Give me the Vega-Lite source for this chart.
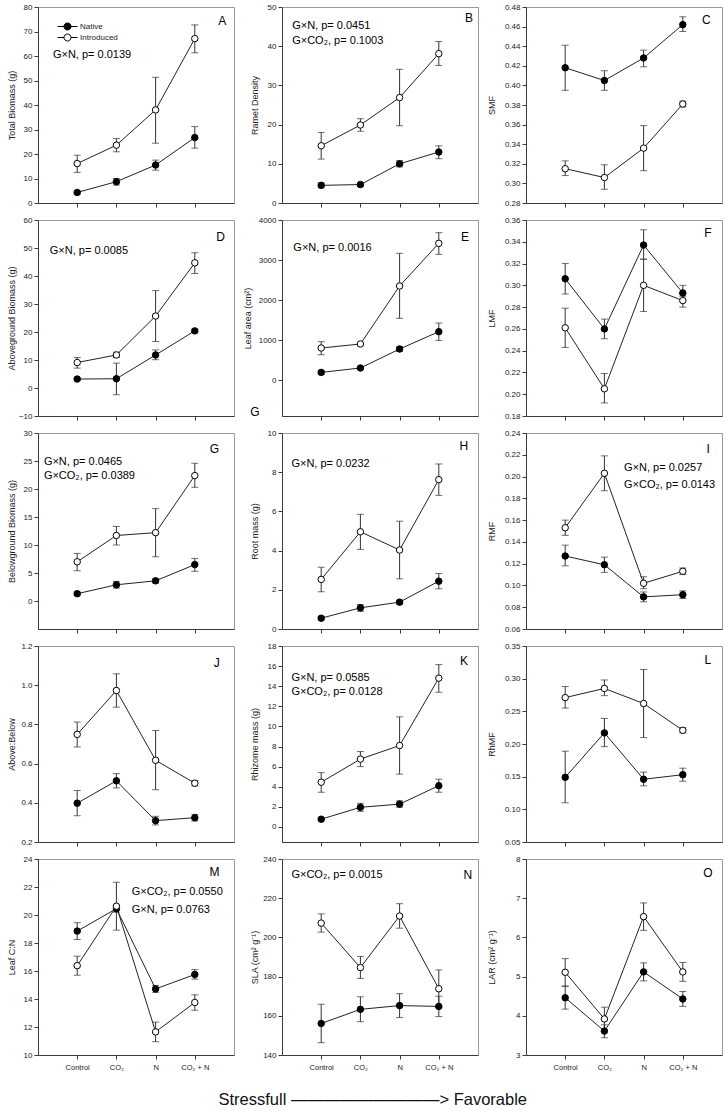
{
"$schema": "https://vega.github.io/schema/vega-lite/v6.json",
"padding": {"left": 7, "top": 2, "right": 0, "bottom": 0},
"datasets": {
"pts": [
{"p":"A","g":"Native","x":1,"y":4.3,"lo":3.7,"hi":4.9},{"p":"A","g":"Native","x":2,"y":8.7,"lo":7.3,"hi":10.0},{"p":"A","g":"Native","x":3,"y":15.5,"lo":13.4,"hi":17.5},{"p":"A","g":"Native","x":4,"y":26.7,"lo":22.4,"hi":31.2},
{"p":"A","g":"Introduced","x":1,"y":16.1,"lo":12.5,"hi":19.5},{"p":"A","g":"Introduced","x":2,"y":23.6,"lo":20.9,"hi":26.3},{"p":"A","g":"Introduced","x":3,"y":38.0,"lo":24.4,"hi":51.3},{"p":"A","g":"Introduced","x":4,"y":67.1,"lo":61.3,"hi":72.7},
{"p":"B","g":"Native","x":1,"y":4.5,"lo":3.9,"hi":5.1},{"p":"B","g":"Native","x":2,"y":4.7,"lo":4.2,"hi":5.2},{"p":"B","g":"Native","x":3,"y":10.0,"lo":9.2,"hi":10.8},{"p":"B","g":"Native","x":4,"y":13.0,"lo":11.3,"hi":14.6},
{"p":"B","g":"Introduced","x":1,"y":14.6,"lo":11.2,"hi":18.0},{"p":"B","g":"Introduced","x":2,"y":19.9,"lo":18.3,"hi":21.5},{"p":"B","g":"Introduced","x":3,"y":26.9,"lo":19.7,"hi":34.1},{"p":"B","g":"Introduced","x":4,"y":38.1,"lo":35.1,"hi":41.2},
{"p":"C","g":"Native","x":1,"y":0.418,"lo":0.395,"hi":0.441},{"p":"C","g":"Native","x":2,"y":0.405,"lo":0.395,"hi":0.415},{"p":"C","g":"Native","x":3,"y":0.428,"lo":0.419,"hi":0.436},{"p":"C","g":"Native","x":4,"y":0.462,"lo":0.455,"hi":0.470},
{"p":"C","g":"Introduced","x":1,"y":0.315,"lo":0.308,"hi":0.323},{"p":"C","g":"Introduced","x":2,"y":0.306,"lo":0.294,"hi":0.319},{"p":"C","g":"Introduced","x":3,"y":0.336,"lo":0.313,"hi":0.359},{"p":"C","g":"Introduced","x":4,"y":0.381,"lo":0.378,"hi":0.384},
{"p":"D","g":"Native","x":1,"y":3.2,"lo":2.8,"hi":3.6},{"p":"D","g":"Native","x":2,"y":3.3,"lo":-2.4,"hi":8.9},{"p":"D","g":"Native","x":3,"y":11.8,"lo":10.1,"hi":13.6},{"p":"D","g":"Native","x":4,"y":20.4,"lo":19.8,"hi":21.0},
{"p":"D","g":"Introduced","x":1,"y":9.1,"lo":7.1,"hi":10.9},{"p":"D","g":"Introduced","x":2,"y":11.8,"lo":10.9,"hi":12.8},{"p":"D","g":"Introduced","x":3,"y":25.7,"lo":16.6,"hi":34.8},{"p":"D","g":"Introduced","x":4,"y":44.7,"lo":40.9,"hi":48.3},
{"p":"E","g":"Native","x":1,"y":190,"lo":140,"hi":240},{"p":"E","g":"Native","x":2,"y":300,"lo":260,"hi":340},{"p":"E","g":"Native","x":3,"y":775,"lo":715,"hi":835},{"p":"E","g":"Native","x":4,"y":1208,"lo":990,"hi":1425},
{"p":"E","g":"Introduced","x":1,"y":800,"lo":633,"hi":958},{"p":"E","g":"Introduced","x":2,"y":900,"lo":870,"hi":930},{"p":"E","g":"Introduced","x":3,"y":2350,"lo":1542,"hi":3167},{"p":"E","g":"Introduced","x":4,"y":3417,"lo":3142,"hi":3683},
{"p":"F","g":"Native","x":1,"y":0.306,"lo":0.292,"hi":0.320},{"p":"F","g":"Native","x":2,"y":0.260,"lo":0.251,"hi":0.269},{"p":"F","g":"Native","x":3,"y":0.337,"lo":0.324,"hi":0.351},{"p":"F","g":"Native","x":4,"y":0.293,"lo":0.290,"hi":0.300},
{"p":"F","g":"Introduced","x":1,"y":0.261,"lo":0.243,"hi":0.279},{"p":"F","g":"Introduced","x":2,"y":0.205,"lo":0.192,"hi":0.219},{"p":"F","g":"Introduced","x":3,"y":0.300,"lo":0.276,"hi":0.324},{"p":"F","g":"Introduced","x":4,"y":0.286,"lo":0.280,"hi":0.292},
{"p":"G","g":"Native","x":1,"y":1.3,"lo":1.0,"hi":1.6},{"p":"G","g":"Native","x":2,"y":2.9,"lo":2.3,"hi":3.5},{"p":"G","g":"Native","x":3,"y":3.6,"lo":3.2,"hi":4.0},{"p":"G","g":"Native","x":4,"y":6.5,"lo":5.3,"hi":7.6},
{"p":"G","g":"Introduced","x":1,"y":7.0,"lo":5.4,"hi":8.5},{"p":"G","g":"Introduced","x":2,"y":11.7,"lo":10.0,"hi":13.3},{"p":"G","g":"Introduced","x":3,"y":12.2,"lo":7.9,"hi":16.5},{"p":"G","g":"Introduced","x":4,"y":22.4,"lo":20.3,"hi":24.6},
{"p":"H","g":"Native","x":1,"y":0.55,"lo":0.47,"hi":0.63},{"p":"H","g":"Native","x":2,"y":1.08,"lo":0.90,"hi":1.25},{"p":"H","g":"Native","x":3,"y":1.37,"lo":1.27,"hi":1.47},{"p":"H","g":"Native","x":4,"y":2.44,"lo":2.05,"hi":2.83},
{"p":"H","g":"Introduced","x":1,"y":2.53,"lo":1.90,"hi":3.15},{"p":"H","g":"Introduced","x":2,"y":4.96,"lo":4.06,"hi":5.85},{"p":"H","g":"Introduced","x":3,"y":4.03,"lo":2.56,"hi":5.50},{"p":"H","g":"Introduced","x":4,"y":7.62,"lo":6.82,"hi":8.42},
{"p":"I","g":"Native","x":1,"y":0.127,"lo":0.118,"hi":0.137},{"p":"I","g":"Native","x":2,"y":0.119,"lo":0.112,"hi":0.126},{"p":"I","g":"Native","x":3,"y":0.0895,"lo":0.085,"hi":0.094},{"p":"I","g":"Native","x":4,"y":0.0915,"lo":0.088,"hi":0.095},
{"p":"I","g":"Introduced","x":1,"y":0.153,"lo":0.146,"hi":0.160},{"p":"I","g":"Introduced","x":2,"y":0.203,"lo":0.187,"hi":0.219},{"p":"I","g":"Introduced","x":3,"y":0.102,"lo":0.097,"hi":0.108},{"p":"I","g":"Introduced","x":4,"y":0.113,"lo":0.110,"hi":0.116},
{"p":"J","g":"Native","x":1,"y":0.398,"lo":0.334,"hi":0.463},{"p":"J","g":"Native","x":2,"y":0.512,"lo":0.476,"hi":0.549},{"p":"J","g":"Native","x":3,"y":0.309,"lo":0.287,"hi":0.331},{"p":"J","g":"Native","x":4,"y":0.324,"lo":0.307,"hi":0.341},
{"p":"J","g":"Introduced","x":1,"y":0.749,"lo":0.685,"hi":0.812},{"p":"J","g":"Introduced","x":2,"y":0.973,"lo":0.888,"hi":1.058},{"p":"J","g":"Introduced","x":3,"y":0.617,"lo":0.467,"hi":0.769},{"p":"J","g":"Introduced","x":4,"y":0.500,"lo":0.486,"hi":0.514},
{"p":"K","g":"Native","x":1,"y":0.77,"lo":0.62,"hi":0.92},{"p":"K","g":"Native","x":2,"y":1.95,"lo":1.55,"hi":2.35},{"p":"K","g":"Native","x":3,"y":2.27,"lo":1.95,"hi":2.6},{"p":"K","g":"Native","x":4,"y":4.1,"lo":3.45,"hi":4.75},
{"p":"K","g":"Introduced","x":1,"y":4.45,"lo":3.45,"hi":5.4},{"p":"K","g":"Introduced","x":2,"y":6.75,"lo":6.0,"hi":7.5},{"p":"K","g":"Introduced","x":3,"y":8.1,"lo":5.25,"hi":10.95},{"p":"K","g":"Introduced","x":4,"y":14.8,"lo":13.4,"hi":16.15},
{"p":"L","g":"Native","x":1,"y":0.149,"lo":0.110,"hi":0.189},{"p":"L","g":"Native","x":2,"y":0.217,"lo":0.196,"hi":0.239},{"p":"L","g":"Native","x":3,"y":0.146,"lo":0.136,"hi":0.157},{"p":"L","g":"Native","x":4,"y":0.153,"lo":0.143,"hi":0.163},
{"p":"L","g":"Introduced","x":1,"y":0.271,"lo":0.255,"hi":0.288},{"p":"L","g":"Introduced","x":2,"y":0.285,"lo":0.274,"hi":0.298},{"p":"L","g":"Introduced","x":3,"y":0.262,"lo":0.210,"hi":0.314},{"p":"L","g":"Introduced","x":4,"y":0.221,"lo":0.217,"hi":0.225},
{"p":"M","g":"Native","x":1,"y":18.85,"lo":18.25,"hi":19.45},{"p":"M","g":"Native","x":2,"y":20.45,"lo":20.2,"hi":20.7},{"p":"M","g":"Native","x":3,"y":14.72,"lo":14.47,"hi":14.97},{"p":"M","g":"Native","x":4,"y":15.75,"lo":15.42,"hi":16.1},
{"p":"M","g":"Introduced","x":1,"y":16.38,"lo":15.7,"hi":17.06},{"p":"M","g":"Introduced","x":2,"y":20.63,"lo":18.92,"hi":22.34},{"p":"M","g":"Introduced","x":3,"y":11.65,"lo":10.95,"hi":12.35},{"p":"M","g":"Introduced","x":4,"y":13.75,"lo":13.2,"hi":14.3},
{"p":"N","g":"Native","x":1,"y":156.1,"lo":146.3,"hi":165.9},{"p":"N","g":"Native","x":2,"y":163.3,"lo":157.0,"hi":169.7},{"p":"N","g":"Native","x":3,"y":165.2,"lo":159.1,"hi":171.3},{"p":"N","g":"Native","x":4,"y":164.8,"lo":159.6,"hi":170.0},
{"p":"N","g":"Introduced","x":1,"y":207.3,"lo":202.7,"hi":212.0},{"p":"N","g":"Introduced","x":2,"y":184.6,"lo":179.1,"hi":190.3},{"p":"N","g":"Introduced","x":3,"y":210.9,"lo":204.7,"hi":217.2},{"p":"N","g":"Introduced","x":4,"y":173.8,"lo":164.2,"hi":183.4},
{"p":"O","g":"Native","x":1,"y":4.46,"lo":4.17,"hi":4.75},{"p":"O","g":"Native","x":2,"y":3.61,"lo":3.44,"hi":3.77},{"p":"O","g":"Native","x":3,"y":5.12,"lo":4.89,"hi":5.35},{"p":"O","g":"Native","x":4,"y":4.43,"lo":4.24,"hi":4.62},
{"p":"O","g":"Introduced","x":1,"y":5.11,"lo":4.76,"hi":5.46},{"p":"O","g":"Introduced","x":2,"y":3.92,"lo":3.60,"hi":4.22},{"p":"O","g":"Introduced","x":3,"y":6.53,"lo":6.18,"hi":6.88},{"p":"O","g":"Introduced","x":4,"y":5.12,"lo":4.88,"hi":5.36}
],
"ann": [
{"p":"A","k":"L","label":"A","x":4.7,"y":74.2},
{"p":"A","k":"S","label":"G×N, p= 0.0139","x":0.38,"y":60.6},
{"p":"B","k":"L","label":"B","x":4.77,"y":47.2},
{"p":"B","k":"S","label":"G×N, p= 0.0451","x":0.26,"y":45.2},
{"p":"B","k":"S","label":"G×CO₂, p= 0.1003","x":0.26,"y":41.3},
{"p":"C","k":"L","label":"C","x":4.6,"y":0.4668},
{"p":"D","k":"L","label":"D","x":4.66,"y":54.1},
{"p":"D","k":"S","label":"G×N, p= 0.0085","x":0.30,"y":49.1},
{"p":"E","k":"L","label":"E","x":4.67,"y":3575},
{"p":"E","k":"S","label":"G×N, p= 0.0016","x":0.29,"y":3308},
{"p":"E","k":"L","label":"G","x":-0.69,"y":-800},
{"p":"F","k":"L","label":"F","x":4.64,"y":0.3483},
{"p":"G","k":"L","label":"G","x":4.5,"y":27.1},
{"p":"G","k":"S","label":"G×N, p= 0.0465","x":0.15,"y":24.9},
{"p":"G","k":"S","label":"G×CO₂, p= 0.0389","x":0.15,"y":22.4},
{"p":"H","k":"L","label":"H","x":4.64,"y":9.32},
{"p":"H","k":"S","label":"G×N, p= 0.0232","x":0.24,"y":8.44},
{"p":"I","k":"L","label":"I","x":4.65,"y":0.2253},
{"p":"I","k":"S","label":"G×N, p= 0.0257","x":2.5,"y":0.208},
{"p":"I","k":"S","label":"G×CO₂, p= 0.0143","x":2.5,"y":0.1924},
{"p":"J","k":"L","label":"J","x":4.56,"y":1.112},
{"p":"K","k":"L","label":"K","x":4.64,"y":16.5},
{"p":"K","k":"S","label":"G×N, p= 0.0585","x":0.24,"y":14.77},
{"p":"K","k":"S","label":"G×CO₂, p= 0.0128","x":0.24,"y":13.45},
{"p":"L","k":"L","label":"L","x":4.64,"y":0.328},
{"p":"M","k":"L","label":"M","x":4.5,"y":23.05},
{"p":"M","k":"S","label":"G×CO₂, p= 0.0550","x":2.39,"y":21.62},
{"p":"M","k":"S","label":"G×N, p= 0.0763","x":2.39,"y":20.39},
{"p":"N","k":"L","label":"N","x":4.74,"y":231.9},
{"p":"N","k":"S","label":"G×CO₂, p= 0.0015","x":0.24,"y":231.6},
{"p":"O","k":"L","label":"O","x":4.64,"y":7.645}
]
},
"columns": 3,
"spacing": {"row": 17, "column": 48},
"bounds": "flush",
"resolve": {"scale": {"fill": "independent"}, "legend": {"fill": "independent"}},
"title": {"text": "Stressfull  —————————>  Favorable", "orient": "bottom", "anchor": "middle", "fontSize": 16.5, "fontWeight": "normal", "color": "#111", "offset": 21, "dx": 8},
"concat": [
{"width":196,"height":196,
 "encoding":{"x":{"field":"x","type":"quantitative","scale":{"domain":[0,5],"nice":false},"axis":{"values":[1,2,3,4],"labels":false,"title":null}},
  "y":{"field":"y","type":"quantitative","scale":{"domain":[0,80],"nice":false,"zero":false},"axis":{"title":"Total Biomass (g)","values":[0,10,20,30,40,50,60,70,80],"format":".0f","minExtent":17.5,"maxExtent":17.5}}},
 "layer":[
  {"data":{"name":"pts"},"transform":[{"filter":"datum.p==='A'"}],"mark":{"type":"errorbar","ticks":true,"size":7,"thickness":1,"color":"#333"},"encoding":{"y":{"field":"lo","type":"quantitative","title":"Total Biomass (g)"},"y2":{"field":"hi"}}},
  {"data":{"name":"pts"},"transform":[{"filter":"datum.p==='A'"}],"mark":{"type":"line","color":"#222","strokeWidth":1},"encoding":{"detail":{"field":"g","type":"nominal"}}},
  {"data":{"name":"pts"},"transform":[{"filter":"datum.p==='A'"}],"mark":{"type":"point","shape":"circle","filled":true,"size":42,"stroke":"#000","strokeWidth":1,"opacity":1},"encoding":{"fill":{"field":"g","type":"nominal","scale":{"domain":["Native","Introduced"],"range":["#000000","#ffffff"]},"legend":{"orient":"none","legendX":24,"legendY":14,"title":null,"symbolType":"M-2,0H-0.7M0.7,0H2M-0.7,0A0.7,0.7,0,1,1,0.7,0A0.7,0.7,0,1,1,-0.7,0Z","symbolSize":100,"symbolStrokeColor":"#000","symbolStrokeWidth":1,"symbolOpacity":1,"labelFontSize":8,"labelOffset":7,"rowPadding":0,"padding":0,"labelColor":"#222"}}}},
  {"data":{"name":"ann"},"transform":[{"filter":"datum.p==='A' && datum.k==='L'"}],"mark":{"type":"text","fontSize":12,"align":"center","baseline":"middle"},"encoding":{"text":{"field":"label","type":"nominal"}}},
  {"data":{"name":"ann"},"transform":[{"filter":"datum.p==='A' && datum.k==='S'"}],"mark":{"type":"text","fontSize":11,"align":"left","baseline":"middle"},"encoding":{"text":{"field":"label","type":"nominal"}}}
 ]},
{"width":196,"height":196,
 "encoding":{"x":{"field":"x","type":"quantitative","scale":{"domain":[0,5],"nice":false},"axis":{"values":[1,2,3,4],"labels":false,"title":null}},
  "y":{"field":"y","type":"quantitative","scale":{"domain":[0,50],"nice":false,"zero":false},"axis":{"title":"Ramet Density","values":[0,10,20,30,40,50],"format":".0f","minExtent":18.5,"maxExtent":18.5}}},
 "layer":[
  {"data":{"name":"pts"},"transform":[{"filter":"datum.p==='B'"}],"mark":{"type":"errorbar","ticks":true,"size":7,"thickness":1,"color":"#333"},"encoding":{"y":{"field":"lo","type":"quantitative","title":"Ramet Density"},"y2":{"field":"hi"}}},
  {"data":{"name":"pts"},"transform":[{"filter":"datum.p==='B'"}],"mark":{"type":"line","color":"#222","strokeWidth":1},"encoding":{"detail":{"field":"g","type":"nominal"}}},
  {"data":{"name":"pts"},"transform":[{"filter":"datum.p==='B'"}],"mark":{"type":"point","shape":"circle","filled":true,"size":42,"stroke":"#000","strokeWidth":1,"opacity":1},"encoding":{"fill":{"field":"g","type":"nominal","scale":{"domain":["Native","Introduced"],"range":["#000000","#ffffff"]},"legend":null}}},
  {"data":{"name":"ann"},"transform":[{"filter":"datum.p==='B' && datum.k==='L'"}],"mark":{"type":"text","fontSize":12,"align":"center","baseline":"middle"},"encoding":{"text":{"field":"label","type":"nominal"}}},
  {"data":{"name":"ann"},"transform":[{"filter":"datum.p==='B' && datum.k==='S'"}],"mark":{"type":"text","fontSize":11,"align":"left","baseline":"middle"},"encoding":{"text":{"field":"label","type":"nominal"}}}
 ]},
{"width":196,"height":196,
 "encoding":{"x":{"field":"x","type":"quantitative","scale":{"domain":[0,5],"nice":false},"axis":{"values":[1,2,3,4],"labels":false,"title":null}},
  "y":{"field":"y","type":"quantitative","scale":{"domain":[0.28,0.48],"nice":false,"zero":false},"axis":{"title":"SMF","values":[0.28,0.30,0.32,0.34,0.36,0.38,0.40,0.42,0.44,0.46,0.48],"format":".2f","minExtent":25.5,"maxExtent":25.5}}},
 "layer":[
  {"data":{"name":"pts"},"transform":[{"filter":"datum.p==='C'"}],"mark":{"type":"errorbar","ticks":true,"size":7,"thickness":1,"color":"#333"},"encoding":{"y":{"field":"lo","type":"quantitative","title":"SMF"},"y2":{"field":"hi"}}},
  {"data":{"name":"pts"},"transform":[{"filter":"datum.p==='C'"}],"mark":{"type":"line","color":"#222","strokeWidth":1},"encoding":{"detail":{"field":"g","type":"nominal"}}},
  {"data":{"name":"pts"},"transform":[{"filter":"datum.p==='C'"}],"mark":{"type":"point","shape":"circle","filled":true,"size":42,"stroke":"#000","strokeWidth":1,"opacity":1},"encoding":{"fill":{"field":"g","type":"nominal","scale":{"domain":["Native","Introduced"],"range":["#000000","#ffffff"]},"legend":null}}},
  {"data":{"name":"ann"},"transform":[{"filter":"datum.p==='C' && datum.k==='L'"}],"mark":{"type":"text","fontSize":12,"align":"center","baseline":"middle"},"encoding":{"text":{"field":"label","type":"nominal"}}},
  {"data":{"name":"ann"},"transform":[{"filter":"datum.p==='C' && datum.k==='S'"}],"mark":{"type":"text","fontSize":11,"align":"left","baseline":"middle"},"encoding":{"text":{"field":"label","type":"nominal"}}}
 ]},
{"width":196,"height":196,
 "encoding":{"x":{"field":"x","type":"quantitative","scale":{"domain":[0,5],"nice":false},"axis":{"values":[1,2,3,4],"labels":false,"title":null}},
  "y":{"field":"y","type":"quantitative","scale":{"domain":[-10,60],"nice":false,"zero":false},"axis":{"title":"Aboveground Biomass (g)","values":[-10,0,10,20,30,40,50,60],"format":".0f","minExtent":17.5,"maxExtent":17.5}}},
 "layer":[
  {"data":{"name":"pts"},"transform":[{"filter":"datum.p==='D'"}],"mark":{"type":"errorbar","ticks":true,"size":7,"thickness":1,"color":"#333"},"encoding":{"y":{"field":"lo","type":"quantitative","title":"Aboveground Biomass (g)"},"y2":{"field":"hi"}}},
  {"data":{"name":"pts"},"transform":[{"filter":"datum.p==='D'"}],"mark":{"type":"line","color":"#222","strokeWidth":1},"encoding":{"detail":{"field":"g","type":"nominal"}}},
  {"data":{"name":"pts"},"transform":[{"filter":"datum.p==='D'"}],"mark":{"type":"point","shape":"circle","filled":true,"size":42,"stroke":"#000","strokeWidth":1,"opacity":1},"encoding":{"fill":{"field":"g","type":"nominal","scale":{"domain":["Native","Introduced"],"range":["#000000","#ffffff"]},"legend":null}}},
  {"data":{"name":"ann"},"transform":[{"filter":"datum.p==='D' && datum.k==='L'"}],"mark":{"type":"text","fontSize":12,"align":"center","baseline":"middle"},"encoding":{"text":{"field":"label","type":"nominal"}}},
  {"data":{"name":"ann"},"transform":[{"filter":"datum.p==='D' && datum.k==='S'"}],"mark":{"type":"text","fontSize":11,"align":"left","baseline":"middle"},"encoding":{"text":{"field":"label","type":"nominal"}}}
 ]},
{"width":196,"height":196,
 "encoding":{"x":{"field":"x","type":"quantitative","scale":{"domain":[0,5],"nice":false},"axis":{"values":[1,2,3,4],"labels":false,"title":null}},
  "y":{"field":"y","type":"quantitative","scale":{"domain":[-900,4000],"nice":false,"zero":false},"axis":{"title":"Leaf area (cm²)","values":[0,1000,2000,3000,4000],"format":".0f","minExtent":25.5,"maxExtent":25.5}}},
 "layer":[
  {"data":{"name":"pts"},"transform":[{"filter":"datum.p==='E'"}],"mark":{"type":"errorbar","ticks":true,"size":7,"thickness":1,"color":"#333"},"encoding":{"y":{"field":"lo","type":"quantitative","title":"Leaf area (cm²)"},"y2":{"field":"hi"}}},
  {"data":{"name":"pts"},"transform":[{"filter":"datum.p==='E'"}],"mark":{"type":"line","color":"#222","strokeWidth":1},"encoding":{"detail":{"field":"g","type":"nominal"}}},
  {"data":{"name":"pts"},"transform":[{"filter":"datum.p==='E'"}],"mark":{"type":"point","shape":"circle","filled":true,"size":42,"stroke":"#000","strokeWidth":1,"opacity":1},"encoding":{"fill":{"field":"g","type":"nominal","scale":{"domain":["Native","Introduced"],"range":["#000000","#ffffff"]},"legend":null}}},
  {"data":{"name":"ann"},"transform":[{"filter":"datum.p==='E' && datum.k==='L'"}],"mark":{"type":"text","fontSize":12,"align":"center","baseline":"middle"},"encoding":{"text":{"field":"label","type":"nominal"}}},
  {"data":{"name":"ann"},"transform":[{"filter":"datum.p==='E' && datum.k==='S'"}],"mark":{"type":"text","fontSize":11,"align":"left","baseline":"middle"},"encoding":{"text":{"field":"label","type":"nominal"}}}
 ]},
{"width":196,"height":196,
 "encoding":{"x":{"field":"x","type":"quantitative","scale":{"domain":[0,5],"nice":false},"axis":{"values":[1,2,3,4],"labels":false,"title":null}},
  "y":{"field":"y","type":"quantitative","scale":{"domain":[0.18,0.36],"nice":false,"zero":false},"axis":{"title":"LMF","values":[0.18,0.20,0.22,0.24,0.26,0.28,0.30,0.32,0.34,0.36],"format":".2f","minExtent":25.5,"maxExtent":25.5}}},
 "layer":[
  {"data":{"name":"pts"},"transform":[{"filter":"datum.p==='F'"}],"mark":{"type":"errorbar","ticks":true,"size":7,"thickness":1,"color":"#333"},"encoding":{"y":{"field":"lo","type":"quantitative","title":"LMF"},"y2":{"field":"hi"}}},
  {"data":{"name":"pts"},"transform":[{"filter":"datum.p==='F'"}],"mark":{"type":"line","color":"#222","strokeWidth":1},"encoding":{"detail":{"field":"g","type":"nominal"}}},
  {"data":{"name":"pts"},"transform":[{"filter":"datum.p==='F'"}],"mark":{"type":"point","shape":"circle","filled":true,"size":42,"stroke":"#000","strokeWidth":1,"opacity":1},"encoding":{"fill":{"field":"g","type":"nominal","scale":{"domain":["Native","Introduced"],"range":["#000000","#ffffff"]},"legend":null}}},
  {"data":{"name":"ann"},"transform":[{"filter":"datum.p==='F' && datum.k==='L'"}],"mark":{"type":"text","fontSize":12,"align":"center","baseline":"middle"},"encoding":{"text":{"field":"label","type":"nominal"}}},
  {"data":{"name":"ann"},"transform":[{"filter":"datum.p==='F' && datum.k==='S'"}],"mark":{"type":"text","fontSize":11,"align":"left","baseline":"middle"},"encoding":{"text":{"field":"label","type":"nominal"}}}
 ]},
{"width":196,"height":196,
 "encoding":{"x":{"field":"x","type":"quantitative","scale":{"domain":[0,5],"nice":false},"axis":{"values":[1,2,3,4],"labels":false,"title":null}},
  "y":{"field":"y","type":"quantitative","scale":{"domain":[-5,30],"nice":false,"zero":false},"axis":{"title":"Belowground Biomass (g)","values":[0,5,10,15,20,25,30],"format":".0f","minExtent":17.5,"maxExtent":17.5}}},
 "layer":[
  {"data":{"name":"pts"},"transform":[{"filter":"datum.p==='G'"}],"mark":{"type":"errorbar","ticks":true,"size":7,"thickness":1,"color":"#333"},"encoding":{"y":{"field":"lo","type":"quantitative","title":"Belowground Biomass (g)"},"y2":{"field":"hi"}}},
  {"data":{"name":"pts"},"transform":[{"filter":"datum.p==='G'"}],"mark":{"type":"line","color":"#222","strokeWidth":1},"encoding":{"detail":{"field":"g","type":"nominal"}}},
  {"data":{"name":"pts"},"transform":[{"filter":"datum.p==='G'"}],"mark":{"type":"point","shape":"circle","filled":true,"size":42,"stroke":"#000","strokeWidth":1,"opacity":1},"encoding":{"fill":{"field":"g","type":"nominal","scale":{"domain":["Native","Introduced"],"range":["#000000","#ffffff"]},"legend":null}}},
  {"data":{"name":"ann"},"transform":[{"filter":"datum.p==='G' && datum.k==='L'"}],"mark":{"type":"text","fontSize":12,"align":"center","baseline":"middle"},"encoding":{"text":{"field":"label","type":"nominal"}}},
  {"data":{"name":"ann"},"transform":[{"filter":"datum.p==='G' && datum.k==='S'"}],"mark":{"type":"text","fontSize":11,"align":"left","baseline":"middle"},"encoding":{"text":{"field":"label","type":"nominal"}}}
 ]},
{"width":196,"height":196,
 "encoding":{"x":{"field":"x","type":"quantitative","scale":{"domain":[0,5],"nice":false},"axis":{"values":[1,2,3,4],"labels":false,"title":null}},
  "y":{"field":"y","type":"quantitative","scale":{"domain":[0,10],"nice":false,"zero":false},"axis":{"title":"Root mass (g)","values":[0,2,4,6,8,10],"format":".0f","minExtent":18.5,"maxExtent":18.5}}},
 "layer":[
  {"data":{"name":"pts"},"transform":[{"filter":"datum.p==='H'"}],"mark":{"type":"errorbar","ticks":true,"size":7,"thickness":1,"color":"#333"},"encoding":{"y":{"field":"lo","type":"quantitative","title":"Root mass (g)"},"y2":{"field":"hi"}}},
  {"data":{"name":"pts"},"transform":[{"filter":"datum.p==='H'"}],"mark":{"type":"line","color":"#222","strokeWidth":1},"encoding":{"detail":{"field":"g","type":"nominal"}}},
  {"data":{"name":"pts"},"transform":[{"filter":"datum.p==='H'"}],"mark":{"type":"point","shape":"circle","filled":true,"size":42,"stroke":"#000","strokeWidth":1,"opacity":1},"encoding":{"fill":{"field":"g","type":"nominal","scale":{"domain":["Native","Introduced"],"range":["#000000","#ffffff"]},"legend":null}}},
  {"data":{"name":"ann"},"transform":[{"filter":"datum.p==='H' && datum.k==='L'"}],"mark":{"type":"text","fontSize":12,"align":"center","baseline":"middle"},"encoding":{"text":{"field":"label","type":"nominal"}}},
  {"data":{"name":"ann"},"transform":[{"filter":"datum.p==='H' && datum.k==='S'"}],"mark":{"type":"text","fontSize":11,"align":"left","baseline":"middle"},"encoding":{"text":{"field":"label","type":"nominal"}}}
 ]},
{"width":196,"height":196,
 "encoding":{"x":{"field":"x","type":"quantitative","scale":{"domain":[0,5],"nice":false},"axis":{"values":[1,2,3,4],"labels":false,"title":null}},
  "y":{"field":"y","type":"quantitative","scale":{"domain":[0.06,0.24],"nice":false,"zero":false},"axis":{"title":"RMF","values":[0.06,0.08,0.10,0.12,0.14,0.16,0.18,0.20,0.22,0.24],"format":".2f","minExtent":25.5,"maxExtent":25.5}}},
 "layer":[
  {"data":{"name":"pts"},"transform":[{"filter":"datum.p==='I'"}],"mark":{"type":"errorbar","ticks":true,"size":7,"thickness":1,"color":"#333"},"encoding":{"y":{"field":"lo","type":"quantitative","title":"RMF"},"y2":{"field":"hi"}}},
  {"data":{"name":"pts"},"transform":[{"filter":"datum.p==='I'"}],"mark":{"type":"line","color":"#222","strokeWidth":1},"encoding":{"detail":{"field":"g","type":"nominal"}}},
  {"data":{"name":"pts"},"transform":[{"filter":"datum.p==='I'"}],"mark":{"type":"point","shape":"circle","filled":true,"size":42,"stroke":"#000","strokeWidth":1,"opacity":1},"encoding":{"fill":{"field":"g","type":"nominal","scale":{"domain":["Native","Introduced"],"range":["#000000","#ffffff"]},"legend":null}}},
  {"data":{"name":"ann"},"transform":[{"filter":"datum.p==='I' && datum.k==='L'"}],"mark":{"type":"text","fontSize":12,"align":"center","baseline":"middle"},"encoding":{"text":{"field":"label","type":"nominal"}}},
  {"data":{"name":"ann"},"transform":[{"filter":"datum.p==='I' && datum.k==='S'"}],"mark":{"type":"text","fontSize":11,"align":"left","baseline":"middle"},"encoding":{"text":{"field":"label","type":"nominal"}}}
 ]},
{"width":196,"height":196,
 "encoding":{"x":{"field":"x","type":"quantitative","scale":{"domain":[0,5],"nice":false},"axis":{"values":[1,2,3,4],"labels":false,"title":null}},
  "y":{"field":"y","type":"quantitative","scale":{"domain":[0.2,1.2],"nice":false,"zero":false},"axis":{"title":"Above:Below","values":[0.2,0.4,0.6,0.8,1.0,1.2],"format":".1f","minExtent":17.5,"maxExtent":17.5}}},
 "layer":[
  {"data":{"name":"pts"},"transform":[{"filter":"datum.p==='J'"}],"mark":{"type":"errorbar","ticks":true,"size":7,"thickness":1,"color":"#333"},"encoding":{"y":{"field":"lo","type":"quantitative","title":"Above:Below"},"y2":{"field":"hi"}}},
  {"data":{"name":"pts"},"transform":[{"filter":"datum.p==='J'"}],"mark":{"type":"line","color":"#222","strokeWidth":1},"encoding":{"detail":{"field":"g","type":"nominal"}}},
  {"data":{"name":"pts"},"transform":[{"filter":"datum.p==='J'"}],"mark":{"type":"point","shape":"circle","filled":true,"size":42,"stroke":"#000","strokeWidth":1,"opacity":1},"encoding":{"fill":{"field":"g","type":"nominal","scale":{"domain":["Native","Introduced"],"range":["#000000","#ffffff"]},"legend":null}}},
  {"data":{"name":"ann"},"transform":[{"filter":"datum.p==='J' && datum.k==='L'"}],"mark":{"type":"text","fontSize":12,"align":"center","baseline":"middle"},"encoding":{"text":{"field":"label","type":"nominal"}}},
  {"data":{"name":"ann"},"transform":[{"filter":"datum.p==='J' && datum.k==='S'"}],"mark":{"type":"text","fontSize":11,"align":"left","baseline":"middle"},"encoding":{"text":{"field":"label","type":"nominal"}}}
 ]},
{"width":196,"height":196,
 "encoding":{"x":{"field":"x","type":"quantitative","scale":{"domain":[0,5],"nice":false},"axis":{"values":[1,2,3,4],"labels":false,"title":null}},
  "y":{"field":"y","type":"quantitative","scale":{"domain":[-1.5,18],"nice":false,"zero":false},"axis":{"title":"Rhizome mass (g)","values":[0,2,4,6,8,10,12,14,16,18],"format":".0f","minExtent":18.5,"maxExtent":18.5}}},
 "layer":[
  {"data":{"name":"pts"},"transform":[{"filter":"datum.p==='K'"}],"mark":{"type":"errorbar","ticks":true,"size":7,"thickness":1,"color":"#333"},"encoding":{"y":{"field":"lo","type":"quantitative","title":"Rhizome mass (g)"},"y2":{"field":"hi"}}},
  {"data":{"name":"pts"},"transform":[{"filter":"datum.p==='K'"}],"mark":{"type":"line","color":"#222","strokeWidth":1},"encoding":{"detail":{"field":"g","type":"nominal"}}},
  {"data":{"name":"pts"},"transform":[{"filter":"datum.p==='K'"}],"mark":{"type":"point","shape":"circle","filled":true,"size":42,"stroke":"#000","strokeWidth":1,"opacity":1},"encoding":{"fill":{"field":"g","type":"nominal","scale":{"domain":["Native","Introduced"],"range":["#000000","#ffffff"]},"legend":null}}},
  {"data":{"name":"ann"},"transform":[{"filter":"datum.p==='K' && datum.k==='L'"}],"mark":{"type":"text","fontSize":12,"align":"center","baseline":"middle"},"encoding":{"text":{"field":"label","type":"nominal"}}},
  {"data":{"name":"ann"},"transform":[{"filter":"datum.p==='K' && datum.k==='S'"}],"mark":{"type":"text","fontSize":11,"align":"left","baseline":"middle"},"encoding":{"text":{"field":"label","type":"nominal"}}}
 ]},
{"width":196,"height":196,
 "encoding":{"x":{"field":"x","type":"quantitative","scale":{"domain":[0,5],"nice":false},"axis":{"values":[1,2,3,4],"labels":false,"title":null}},
  "y":{"field":"y","type":"quantitative","scale":{"domain":[0.05,0.35],"nice":false,"zero":false},"axis":{"title":"RhMF","values":[0.05,0.10,0.15,0.20,0.25,0.30,0.35],"format":".2f","minExtent":25.5,"maxExtent":25.5}}},
 "layer":[
  {"data":{"name":"pts"},"transform":[{"filter":"datum.p==='L'"}],"mark":{"type":"errorbar","ticks":true,"size":7,"thickness":1,"color":"#333"},"encoding":{"y":{"field":"lo","type":"quantitative","title":"RhMF"},"y2":{"field":"hi"}}},
  {"data":{"name":"pts"},"transform":[{"filter":"datum.p==='L'"}],"mark":{"type":"line","color":"#222","strokeWidth":1},"encoding":{"detail":{"field":"g","type":"nominal"}}},
  {"data":{"name":"pts"},"transform":[{"filter":"datum.p==='L'"}],"mark":{"type":"point","shape":"circle","filled":true,"size":42,"stroke":"#000","strokeWidth":1,"opacity":1},"encoding":{"fill":{"field":"g","type":"nominal","scale":{"domain":["Native","Introduced"],"range":["#000000","#ffffff"]},"legend":null}}},
  {"data":{"name":"ann"},"transform":[{"filter":"datum.p==='L' && datum.k==='L'"}],"mark":{"type":"text","fontSize":12,"align":"center","baseline":"middle"},"encoding":{"text":{"field":"label","type":"nominal"}}},
  {"data":{"name":"ann"},"transform":[{"filter":"datum.p==='L' && datum.k==='S'"}],"mark":{"type":"text","fontSize":11,"align":"left","baseline":"middle"},"encoding":{"text":{"field":"label","type":"nominal"}}}
 ]},
{"width":196,"height":196,
 "encoding":{"x":{"field":"x","type":"quantitative","scale":{"domain":[0,5],"nice":false},"axis":{"values":[1,2,3,4],"title":null,"labelExpr":"['','Control','CO₂','N','CO₂ + N'][datum.value]","labelFontSize":7.5,"labelPadding":4}},
  "y":{"field":"y","type":"quantitative","scale":{"domain":[10,24],"nice":false,"zero":false},"axis":{"title":"Leaf C:N","values":[10,12,14,16,18,20,22,24],"format":".0f","minExtent":17.5,"maxExtent":17.5}}},
 "layer":[
  {"data":{"name":"pts"},"transform":[{"filter":"datum.p==='M'"}],"mark":{"type":"errorbar","ticks":true,"size":7,"thickness":1,"color":"#333"},"encoding":{"y":{"field":"lo","type":"quantitative","title":"Leaf C:N"},"y2":{"field":"hi"}}},
  {"data":{"name":"pts"},"transform":[{"filter":"datum.p==='M'"}],"mark":{"type":"line","color":"#222","strokeWidth":1},"encoding":{"detail":{"field":"g","type":"nominal"}}},
  {"data":{"name":"pts"},"transform":[{"filter":"datum.p==='M'"}],"mark":{"type":"point","shape":"circle","filled":true,"size":42,"stroke":"#000","strokeWidth":1,"opacity":1},"encoding":{"fill":{"field":"g","type":"nominal","scale":{"domain":["Native","Introduced"],"range":["#000000","#ffffff"]},"legend":null}}},
  {"data":{"name":"ann"},"transform":[{"filter":"datum.p==='M' && datum.k==='L'"}],"mark":{"type":"text","fontSize":12,"align":"center","baseline":"middle"},"encoding":{"text":{"field":"label","type":"nominal"}}},
  {"data":{"name":"ann"},"transform":[{"filter":"datum.p==='M' && datum.k==='S'"}],"mark":{"type":"text","fontSize":11,"align":"left","baseline":"middle"},"encoding":{"text":{"field":"label","type":"nominal"}}}
 ]},
{"width":196,"height":196,
 "encoding":{"x":{"field":"x","type":"quantitative","scale":{"domain":[0,5],"nice":false},"axis":{"values":[1,2,3,4],"title":null,"labelExpr":"['','Control','CO₂','N','CO₂ + N'][datum.value]","labelFontSize":7.5,"labelPadding":4}},
  "y":{"field":"y","type":"quantitative","scale":{"domain":[140,240],"nice":false,"zero":false},"axis":{"title":"SLA (cm² g⁻¹)","values":[140,160,180,200,220,240],"format":".0f","minExtent":18.5,"maxExtent":18.5}}},
 "layer":[
  {"data":{"name":"pts"},"transform":[{"filter":"datum.p==='N'"}],"mark":{"type":"errorbar","ticks":true,"size":7,"thickness":1,"color":"#333"},"encoding":{"y":{"field":"lo","type":"quantitative","title":"SLA (cm² g⁻¹)"},"y2":{"field":"hi"}}},
  {"data":{"name":"pts"},"transform":[{"filter":"datum.p==='N'"}],"mark":{"type":"line","color":"#222","strokeWidth":1},"encoding":{"detail":{"field":"g","type":"nominal"}}},
  {"data":{"name":"pts"},"transform":[{"filter":"datum.p==='N'"}],"mark":{"type":"point","shape":"circle","filled":true,"size":42,"stroke":"#000","strokeWidth":1,"opacity":1},"encoding":{"fill":{"field":"g","type":"nominal","scale":{"domain":["Native","Introduced"],"range":["#000000","#ffffff"]},"legend":null}}},
  {"data":{"name":"ann"},"transform":[{"filter":"datum.p==='N' && datum.k==='L'"}],"mark":{"type":"text","fontSize":12,"align":"center","baseline":"middle"},"encoding":{"text":{"field":"label","type":"nominal"}}},
  {"data":{"name":"ann"},"transform":[{"filter":"datum.p==='N' && datum.k==='S'"}],"mark":{"type":"text","fontSize":11,"align":"left","baseline":"middle"},"encoding":{"text":{"field":"label","type":"nominal"}}}
 ]},
{"width":196,"height":196,
 "encoding":{"x":{"field":"x","type":"quantitative","scale":{"domain":[0,5],"nice":false},"axis":{"values":[1,2,3,4],"title":null,"labelExpr":"['','Control','CO₂','N','CO₂ + N'][datum.value]","labelFontSize":7.5,"labelPadding":4}},
  "y":{"field":"y","type":"quantitative","scale":{"domain":[3,8],"nice":false,"zero":false},"axis":{"title":"LAR (cm² g⁻¹)","values":[3,4,5,6,7,8],"format":".0f","minExtent":25.5,"maxExtent":25.5}}},
 "layer":[
  {"data":{"name":"pts"},"transform":[{"filter":"datum.p==='O'"}],"mark":{"type":"errorbar","ticks":true,"size":7,"thickness":1,"color":"#333"},"encoding":{"y":{"field":"lo","type":"quantitative","title":"LAR (cm² g⁻¹)"},"y2":{"field":"hi"}}},
  {"data":{"name":"pts"},"transform":[{"filter":"datum.p==='O'"}],"mark":{"type":"line","color":"#222","strokeWidth":1},"encoding":{"detail":{"field":"g","type":"nominal"}}},
  {"data":{"name":"pts"},"transform":[{"filter":"datum.p==='O'"}],"mark":{"type":"point","shape":"circle","filled":true,"size":42,"stroke":"#000","strokeWidth":1,"opacity":1},"encoding":{"fill":{"field":"g","type":"nominal","scale":{"domain":["Native","Introduced"],"range":["#000000","#ffffff"]},"legend":null}}},
  {"data":{"name":"ann"},"transform":[{"filter":"datum.p==='O' && datum.k==='L'"}],"mark":{"type":"text","fontSize":12,"align":"center","baseline":"middle"},"encoding":{"text":{"field":"label","type":"nominal"}}},
  {"data":{"name":"ann"},"transform":[{"filter":"datum.p==='O' && datum.k==='S'"}],"mark":{"type":"text","fontSize":11,"align":"left","baseline":"middle"},"encoding":{"text":{"field":"label","type":"nominal"}}}
 ]}
],
"config": {
  "font": "Liberation Sans",
  "view": {"stroke": "#9a9a9a", "strokeWidth": 1},
  "axis": {"grid": false, "domainColor": "#3a3a3a", "tickColor": "#3a3a3a", "tickSize": 4, "labelFontSize": 8, "labelColor": "#222", "titleFontSize": 9, "titleFontWeight": "normal", "titleColor": "#222", "labelPadding": 2},
  "axisY": {"titlePadding": 4}
}
}
